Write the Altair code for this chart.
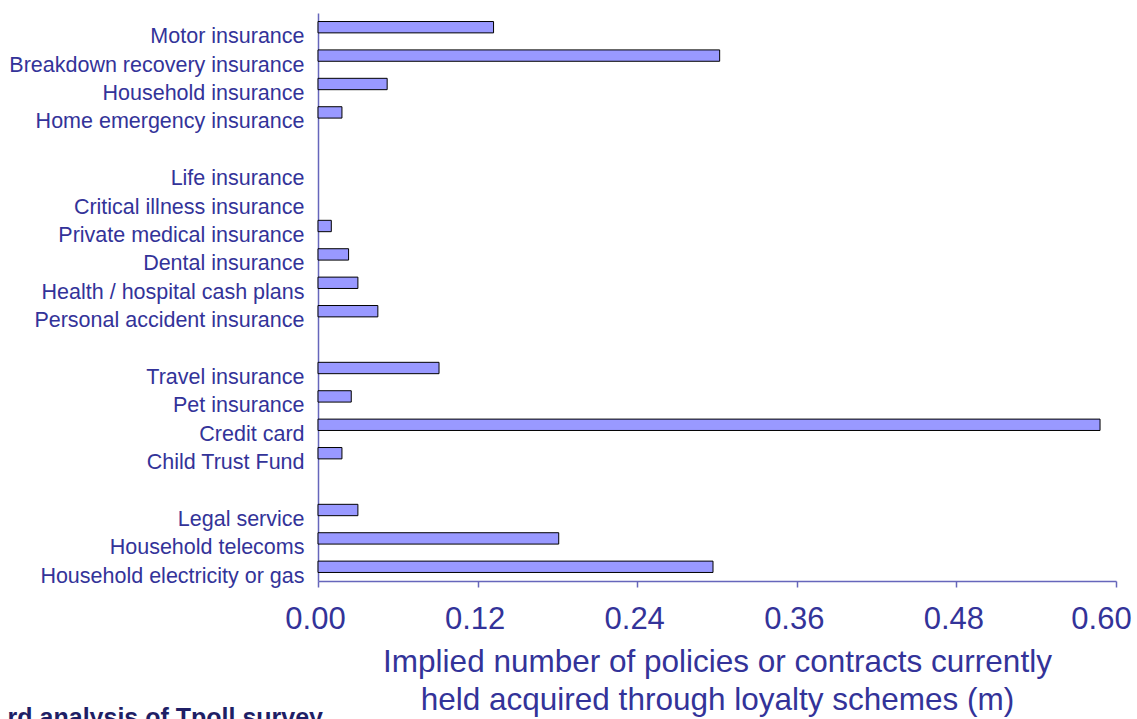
import altair as alt
import pandas as pd

categories = [
    "Motor insurance",
    "Breakdown recovery insurance",
    "Household insurance",
    "Home emergency insurance",
    " ",
    "Life insurance",
    "Critical illness insurance",
    "Private medical insurance",
    "Dental insurance",
    "Health / hospital cash plans",
    "Personal accident insurance",
    "  ",
    "Travel insurance",
    "Pet insurance",
    "Credit card",
    "Child Trust Fund",
    "   ",
    "Legal service",
    "Household telecoms",
    "Household electricity or gas",
]
values = [
    0.132, 0.302, 0.052, 0.018,
    0.0,
    0.0, 0.0, 0.010, 0.023, 0.030, 0.045,
    0.0,
    0.091, 0.025, 0.588, 0.018,
    0.0,
    0.030, 0.181, 0.297,
]
x_ticks = [0.0, 0.12, 0.24, 0.36, 0.48, 0.60]
x_title = ["Implied number of policies or contracts currently",
           "held acquired through loyalty schemes (m)"]
source_text = "rd analysis of Tpoll survey"

df = pd.DataFrame({"category": categories, "value": values})

NAVY = "#333399"
AXIS = "#6666BB"
FONT = "Liberation Sans"

bars = alt.Chart(df).transform_filter("datum.value > 0").mark_bar(
    color="#9999FF", stroke="#000000", strokeWidth=1
).encode(
    y=alt.Y("category:N", sort=categories,
            scale=alt.Scale(domain=categories, paddingInner=0.6, paddingOuter=0.3),
            axis=alt.Axis(title=None, ticks=False, labelPadding=14, labelFontSize=21.5,
                          labelColor=NAVY, labelFont=FONT, labelOffset=10,
                          domainColor=AXIS, domainWidth=1.5, labelLimit=400)),
    x=alt.X("value:Q", scale=alt.Scale(domain=[0, 0.6], nice=False),
            axis=alt.Axis(values=x_ticks, format=".2f", grid=False, title=x_title,
                          labelFontSize=31, labelColor=NAVY, labelFont=FONT,
                          labelFlush=False,
                          labelOffset={"condition": {"test": "datum.value >= 0.59", "value": -15},
                                       "value": -3},
                          labelPadding=17, tickSize=6, tickColor=AXIS, tickWidth=1.5,
                          domainColor=AXIS, domainWidth=1.5,
                          titleFontSize=31.5, titleColor=NAVY, titleFont=FONT,
                          titleFontWeight="normal", titleLineHeight=38,
                          titlePadding=12)),
)

src = alt.Chart(pd.DataFrame({"t": [source_text]})).mark_text(
    align="right", baseline="alphabetic", fontSize=25, fontWeight="bold",
    color="#1F1F66", font=FONT
).encode(text="t:N", x=alt.value(5), y=alt.value(713))

chart = alt.layer(bars, src).properties(
    width=798, height=568,
    autosize=alt.AutoSizeParams(type="none"),
    padding={"left": 318, "top": 13, "right": 21, "bottom": 138},
).configure_view(stroke=None)

chart.save("out.html", embed_options={"renderer": "svg", "actions": False})
